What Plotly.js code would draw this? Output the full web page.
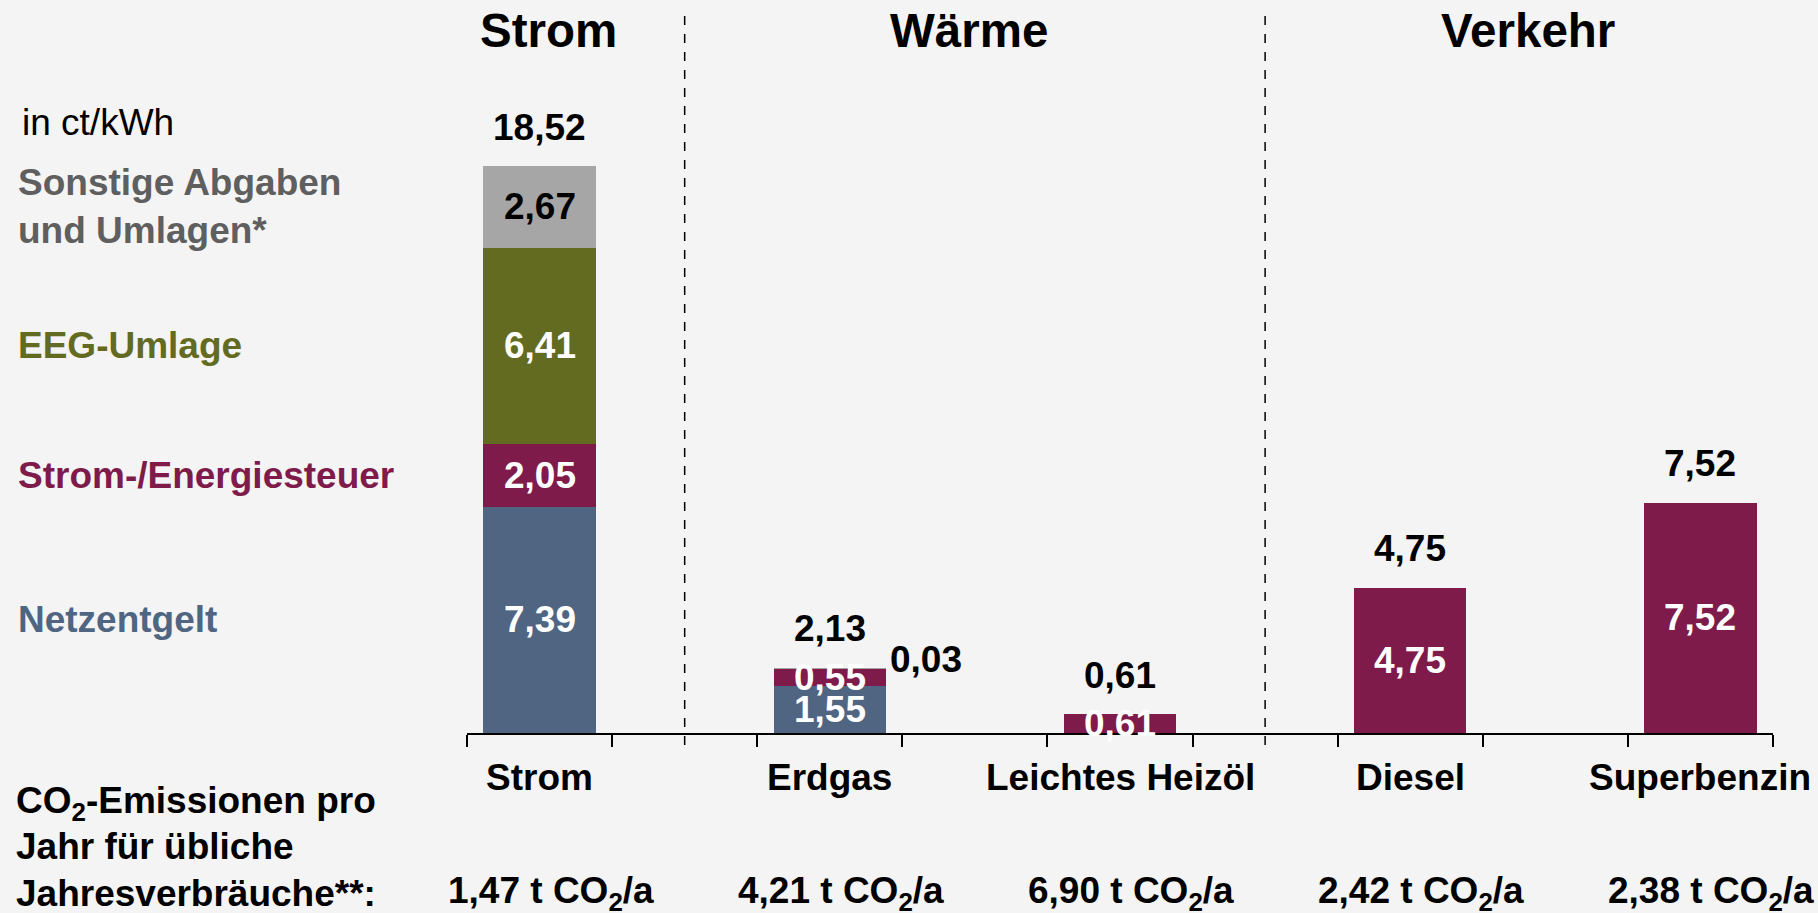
<!DOCTYPE html>
<html>
<head>
<meta charset="utf-8">
<script src="https://cdn.plot.ly/plotly-3.0.1.min.js"></script>
<style>html,body{margin:0;padding:0;background:#f4f4f4;}</style>
</head>
<body>
<div id="chart" style="width:1818px;height:913px;"></div>
<script>
// ---- data ----
const categories = ["Strom", "Erdgas", "Leichtes Heizöl", "Diesel", "Superbenzin"];
const catPos = [0, 2, 4, 6, 8];
const netzentgelt = [7.39, 1.55, 0, 0, 0];
const steuer = [2.05, 0.55, 0.61, 4.75, 7.52];
const eeg = [6.41, 0, 0, 0, 0];
const sonstige = [2.67, 0.03, 0, 0, 0];
const totals = [18.52, 2.13, 0.61, 4.75, 7.52];
const co2 = ["1,47", "4,21", "6,90", "2,42", "2,38"];
const seriesNames = ["Netzentgelt", "Strom-/Energiesteuer", "EEG-Umlage", "Sonstige Abgaben<br>und Umlagen*"];
const groups = ["Strom", "Wärme", "Verkehr"];
const groupPos = [0.06, 2.96, 6.81];
const separators = [1, 5];

const colors = ["#4f6582", "#7e1b4a", "#636b21", "#a6a6a6"];
const labelColors = ["#4f6582", "#7e1b4a", "#636b21", "#5f5f5f"];
const insideTextColors = ["#ffffff", "#ffffff", "#ffffff", "#000000"];
const FONT = '"Liberation Sans", Arial, sans-serif';
const FS = 37;

const series = [netzentgelt, steuer, eeg, sonstige];
const fmt = v => v.toFixed(2).replace(".", ",");

const traces = series.map((vals, i) => ({
  type: "bar", x: catPos, y: vals, width: 0.775,
  marker: {color: colors[i], line: {width: 0}},
  hoverinfo: "skip", showlegend: false
}));

const ann = [];
// inside segment labels
for (let c = 0; c < catPos.length; c++) {
  let base = 0;
  for (let s = 0; s < series.length; s++) {
    const v = series[s][c];
    if (v > 0.2) {
      ann.push({x: catPos[c], y: base + v / 2, xref: "x", yref: "y", text: "<b>" + fmt(v) + "</b>",
        showarrow: false, font: {family: FONT, size: FS, color: insideTextColors[s]}, yanchor: "middle"});
    } else if (v > 0) {
      ann.push({x: catPos[c], y: base + v, xref: "x", yref: "y", text: "<b>" + fmt(v) + "</b>",
        showarrow: false, font: {family: FONT, size: FS, color: "#000"}, xanchor: "left", xshift: 58, yshift: 8, yanchor: "middle"});
    }
    base += v;
  }
  // totals
  ann.push({x: catPos[c], y: totals[c], xref: "x", yref: "y", text: "<b>" + fmt(totals[c]) + "</b>",
    showarrow: false, font: {family: FONT, size: FS, color: "#000"}, yanchor: "middle", yshift: 39});
  // category labels
  ann.push({x: catPos[c], y: -0.062, xref: "x", yref: "paper", text: "<b>" + categories[c] + "</b>",
    showarrow: false, font: {family: FONT, size: FS, color: "#000"}, yanchor: "middle"});
  // co2 values
  ann.push({x: catPos[c], y: -0.224, xref: "x", yref: "paper", text: "<b>" + co2[c] + " t CO<sub>2</sub>/a</b>",
    showarrow: false, font: {family: FONT, size: FS, color: "#000"}, yanchor: "middle", xshift: 11});
}
// series labels on left, aligned to Strom segments
let b0 = 0;
for (let s = 0; s < series.length; s++) {
  const v = series[s][0];
  ann.push({x: (16 - 467) / 1306, y: b0 + v / 2, xref: "paper", yref: "y", text: "<b>" + seriesNames[s] + "</b>",
    showarrow: false, xanchor: "left", align: "left", yanchor: "middle",
    font: {family: FONT, size: 37, color: labelColors[s]}});
  b0 += v;
}
// unit
ann.push({x: (20 - 467) / 1306, y: (733 - 122) / 713, xref: "paper", yref: "paper", text: "in ct/kWh",
  showarrow: false, xanchor: "left", yanchor: "middle", font: {family: FONT, size: FS, color: "#000"}});
// group titles
groups.forEach((g, i) => ann.push({x: groupPos[i], y: (733 - 31) / 713, xref: "x", yref: "paper",
  text: "<b>" + g + "</b>", showarrow: false, yanchor: "middle", font: {family: FONT, size: 47.5, color: "#000"}}));
// bottom-left text
const co2Lines = ["CO<sub>2</sub>-Emissionen pro", "Jahr für übliche", "Jahresverbräuche**:"];
const co2Y = [803, 846, 893];
co2Lines.forEach((t, i) => ann.push({x: (14 - 467) / 1306, y: (733 - co2Y[i]) / 713, xref: "paper", yref: "paper",
  text: "<b>" + t + "</b>", showarrow: false, xanchor: "left", yanchor: "middle", font: {family: FONT, size: FS, color: "#000"}}));

const shapes = separators.map(xv => ({type: "line", xref: "x", yref: "paper", x0: xv, x1: xv,
  y0: -0.017, y1: 1.006, line: {color: "#000", width: 1.5, dash: "dash"}}));

const ticks = [];
for (let t = -0.5; t <= 8.5; t += 1) ticks.push(t);

const layout = {
  width: 1818, height: 913,
  paper_bgcolor: "#f4f4f4", plot_bgcolor: "#f4f4f4",
  margin: {l: 467, r: 45, t: 20, b: 180},
  barmode: "stack",
  xaxis: {range: [-0.5, 8.5], tickmode: "array", tickvals: ticks, showticklabels: false,
    ticks: "outside", ticklen: 12, tickwidth: 2, tickcolor: "#000",
    showline: true, linecolor: "#000", linewidth: 2, showgrid: false, zeroline: false, fixedrange: true},
  yaxis: {range: [0, 23.29], visible: false, showgrid: false, zeroline: false, fixedrange: true},
  annotations: ann, shapes: shapes, showlegend: false
};

Plotly.newPlot("chart", traces, layout, {displayModeBar: false, staticPlot: true});
</script>
</body>
</html>
